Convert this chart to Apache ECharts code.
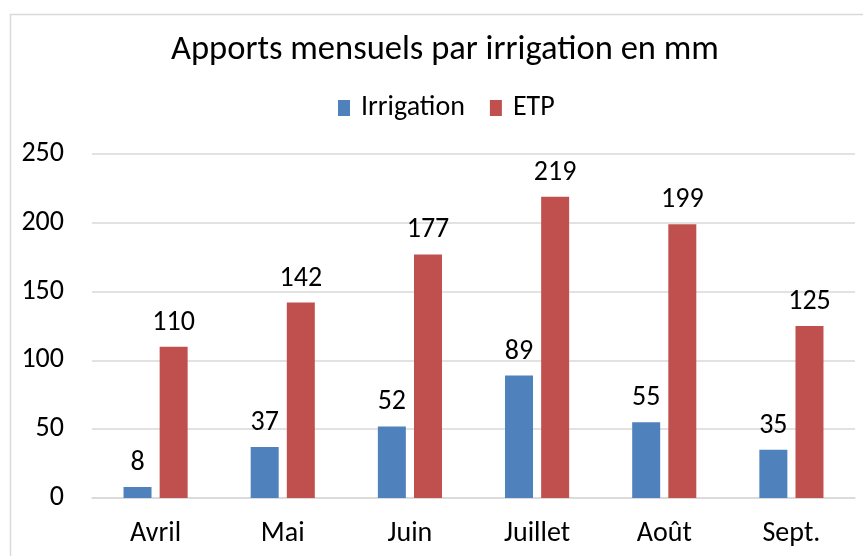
<!DOCTYPE html>
<html><head><meta charset="utf-8">
<script src="https://cdn.jsdelivr.net/npm/echarts@6/dist/echarts.min.js"></script>
<style>html,body{margin:0;padding:0;background:#fff}#c{width:863px;height:556px}</style>
</head><body><div id="c"></div>
<script>
var categories = ['Avril', 'Mai', 'Juin', 'Juillet', 'Août', 'Sept.'];
var irrigation = [8, 37, 52, 89, 55, 35];
var etp = [110, 142, 177, 219, 199, 125];
var yTicks = [0, 50, 100, 150, 200, 250];

var FONT = 'Carlito, "Open Sans", "Noto Sans", sans-serif';
var chart = echarts.init(document.getElementById('c'));
chart.setOption({
  animation: false,
  textStyle: { fontFamily: FONT },
  graphic: [{
    type: 'rect', left: 8, top: 12,
    shape: { width: 870, height: 560 },
    style: { fill: 'none', stroke: '#d9d9d9', lineWidth: 1.5 },
    z: -1
  }],
  title: {
    text: 'Apports mensuels par irrigation en mm',
    left: 166, top: 28,
    textStyle: { fontFamily: FONT, fontSize: 34.5, fontWeight: 'normal', color: '#000' }
  },
  legend: {
    top: 89, left: 333,
    itemWidth: 12, itemHeight: 16, itemGap: 25,
    icon: 'rect',
    textStyle: { fontFamily: FONT, fontSize: 28, color: '#000', padding: [0, 0, 0, 6] },
    data: ['Irrigation', 'ETP']
  },
  grid: { left: 92, right: 8, top: 154, bottom: 58 },
  xAxis: {
    type: 'category', data: categories,
    axisLine: { show: true, lineStyle: { color: '#d9d9d9', width: 1.5 } },
    axisTick: { show: false },
    axisLabel: { fontFamily: FONT, fontSize: 28, color: '#000', margin: 22 }
  },
  yAxis: {
    type: 'value', min: yTicks[0], max: yTicks[yTicks.length - 1], interval: 50,
    axisLine: { show: false }, axisTick: { show: false },
    splitLine: { lineStyle: { color: '#d9d9d9', width: 1.5 } },
    axisLabel: { fontFamily: FONT, fontSize: 28, color: '#000', margin: 28 }
  },
  series: [{
    name: 'Irrigation', type: 'bar', data: irrigation,
    barWidth: 28, barGap: '29%',
    itemStyle: { color: '#4F81BD' },
    label: { show: true, position: 'top', distance: 10, fontFamily: FONT, fontSize: 28, color: '#000' }
  }, {
    name: 'ETP', type: 'bar', data: etp,
    barWidth: 28,
    itemStyle: { color: '#C0504D' },
    label: { show: true, position: 'top', distance: 10, fontFamily: FONT, fontSize: 28, color: '#000' }
  }]
});
</script></body></html>
